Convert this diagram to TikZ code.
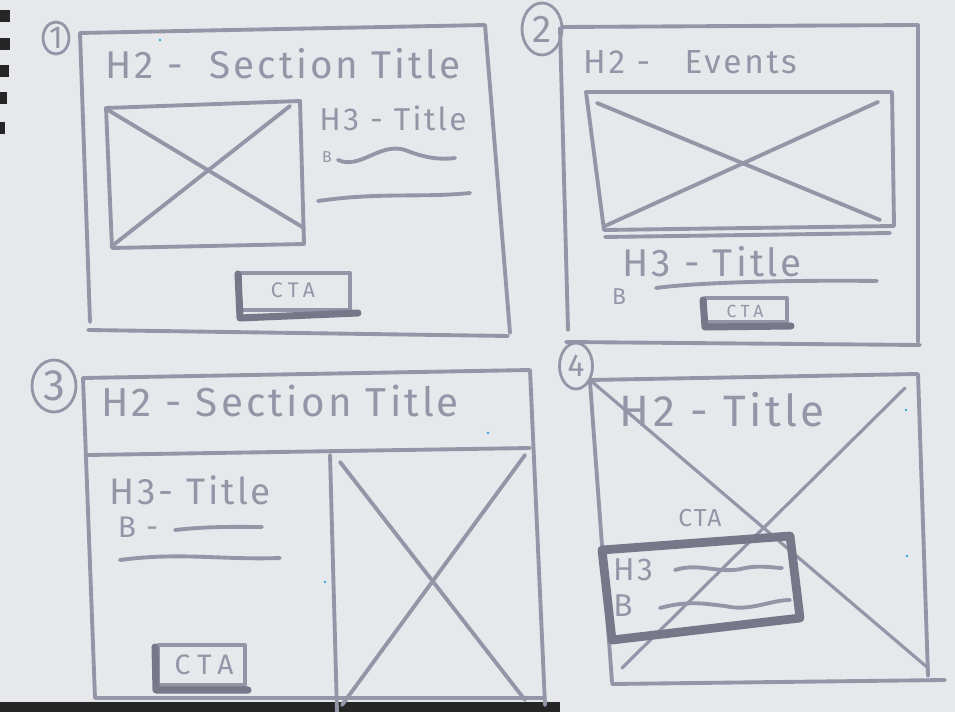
\documentclass[tikz,border=0pt]{standalone}
\usepackage{fontspec}
\setmainfont{Fira Sans}
\usetikzlibrary{positioning, shapes.geometric}
\definecolor{paper}{RGB}{231,232,235}
\definecolor{pencil}{RGB}{148,150,168}
\definecolor{darkpencil}{RGB}{118,120,138}
\definecolor{inkdot}{RGB}{60,170,220}

\begin{document}
\begin{tikzpicture}[x=0.02cm,y=-0.02cm,
    pen/.style={draw=pencil,line width=2.2pt,line cap=round,line join=round},
    heavy/.style={draw=darkpencil,line width=4pt,line cap=round,line join=round},
    hand/.style={text=pencil,inner sep=0pt,
      font=\fontsize{#1}{#1}\selectfont\addfontfeature{LetterSpace=8}},
    cta/.style={text=pencil,inner sep=0pt,
      font=\fontsize{#1}{#1}\selectfont\addfontfeature{LetterSpace=25}},
    num/.style={ellipse,draw=pencil,line width=1.6pt,text=pencil,inner sep=0pt}]
    \fill[paper] (0,0) rectangle (955,712);
    \useasboundingbox (0,0) rectangle (955,712);
    % binding and table edge
    \foreach \y/\w in {10/10, 38/10, 65/9, 92/7, 122/5} {
      \fill[black!85] (0,\y) rectangle (\w,\y+12);
    }
    \fill[black!85] (0,702) rectangle (560,712);
    \foreach \x/\y in {906/410, 907/556, 488/433, 325/582, 808/566, 160/40} {
      \fill[inkdot] (\x,\y) circle (1.4);
    }

    % Panel numbers
    \foreach \n/\x/\y/\w/\h/\f in {1/56/38/26/32/18, 2/542/29/40/52/22, 3/54/386/44/52/25, 4/576/366/33/46/18} {
      \node[num,minimum width=\w*0.02cm,minimum height=\h*0.02cm,
        font=\fontsize{\f}{\f}\selectfont] (p\n) at (\x,\y) {\n};
    }

    % Panel 1
    \draw[pen] (80,33) -- (485,25) -- (510,333);
    \draw[pen] (80,33) -- (90,322);
    \draw[pen] (88,330) -- (508,336);
    \node[hand=22] (t1) at (283,64) {H2 -\ \ Section Title};
    \draw[pen] (106,108) -- (300,101) -- (304,244) -- (112,248) -- cycle;
    \draw[pen] (108,110) -- (304,228);
    \draw[pen] (112,246) -- (290,106);
    \node[hand=18] (h1) at (393,118) {H3 - Title};
    \node[hand=9] (b1) at (327,157) {B};
    \draw[pen] (338,160) .. controls (360,170) and (380,142) .. (405,150)
      .. controls (425,158) and (440,160) .. (455,158);
    \draw[pen] (318,201) .. controls (380,192) and (420,198) .. (470,193);
    \draw[pen] (240,273) rectangle (350,310);
    \draw[heavy] (238,274) -- (240,318) -- (358,313);
    \node[cta=12] (c1) at (293,290) {CTA};

    % Panel 2
    \draw[pen] (563,27) -- (918,25) -- (918,342);
    \draw[pen] (560,28) -- (568,330);
    \draw[pen] (566,342) -- (920,345);
    \node[hand=19] (t2) at (690,62) {H2 -\ \ \ Events};
    \draw[pen] (586,92) -- (892,92) -- (894,226) -- (604,230) -- cycle;
    \draw[pen] (597,103) -- (880,220);
    \draw[pen] (605,226) -- (878,102);
    \draw[pen] (605,237) -- (890,233);
    \node[hand=22] (h2) at (712,262) {H3 - Title};
    \node[hand=13] (b2) at (619,297) {B};
    \draw[pen] (656,288) .. controls (700,282) and (800,280) .. (877,281);
    \draw[pen] (705,298) rectangle (787,322);
    \draw[heavy] (703,300) -- (705,327) -- (791,326);
    \node[cta=10] (c2) at (745,311) {CTA};

    % Panel 3
    \draw[pen] (83,378) -- (530,370) -- (545,705);
    \draw[pen] (83,378) -- (95,698) -- (545,698);
    \draw[pen] (88,455) -- (530,448);
    \draw[pen] (330,455) -- (337,712);
    \draw[pen] (340,462) -- (525,700);
    \draw[pen] (525,455) -- (342,705);
    \node[hand=23] (t3) at (280,401) {H2 -\ Section Title};
    \node[hand=21] (h3) at (190,490) {H3- Title};
    \node[hand=17] (b3) at (138,527) {B -};
    \draw[pen] (175,530) .. controls (210,526) and (240,527) .. (262,527);
    \draw[pen] (120,560) .. controls (180,552) and (220,560) .. (280,558);
    \draw[pen] (158,645) rectangle (245,685);
    \draw[heavy] (155,647) -- (156,690) -- (248,690);
    \node[cta=16] (c3) at (204,665) {CTA};

    % Panel 4
    \draw[pen] (590,380) -- (918,374) -- (928,676);
    \draw[pen] (590,382) -- (612,682);
    \draw[pen] (612,684) -- (945,680);
    \draw[pen,line width=1.8pt] (590,380) -- (928,668);
    \draw[pen,line width=1.8pt] (905,388) -- (622,668);
    \node[hand=25] (t4) at (722,410) {H2 - Title};
    \node[hand=14] (c4) at (700,518) {CTA};
    \draw[heavy,line width=5pt] (602,550) -- (790,536) -- (800,618) -- (612,640) -- cycle;
    \node[hand=18] (h4) at (633,570) {H3};
    \draw[pen] (675,570) .. controls (700,562) and (720,575) .. (745,568)
      .. controls (760,565) and (775,568) .. (782,568);
    \node[hand=18] (b4) at (623,606) {B};
    \draw[pen] (660,608) .. controls (690,600) and (705,604) .. (725,606)
      .. controls (750,612) and (770,600) .. (790,600);
  \end{tikzpicture}
\end{document}
